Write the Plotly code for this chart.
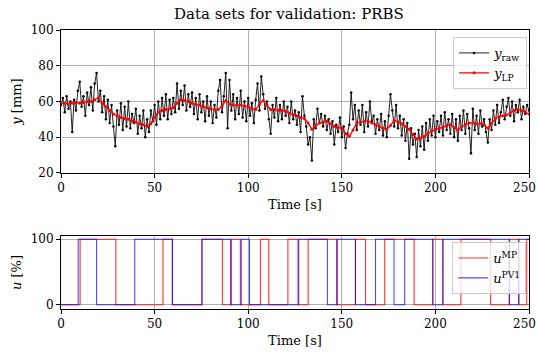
import numpy as np
import plotly.graph_objects as go

# ---------------- data ----------------
t_raw = np.arange(0, 251, 1)
y_raw = [
    58, 62, 54, 63, 56, 60, 43, 61, 55, 66,
    71, 57, 63, 52, 65, 58, 68, 55, 70, 76,
    60, 66, 54, 63, 50, 61, 48, 58, 46, 35,
    55, 47, 59, 44, 57, 46, 60, 45, 53, 48,
    56, 42, 52, 45, 55, 40, 50, 43, 55, 49,
    58, 47, 60, 50, 62, 52, 64, 50, 61, 53,
    62, 54, 70, 56, 66, 58, 69, 55, 64, 57,
    65, 53, 62, 50, 64, 54, 60, 49, 63, 52,
    60, 48, 58, 51, 66, 72, 54, 63, 76, 45,
    72, 55, 64, 50, 62, 53, 66, 51, 60, 49,
    62, 52, 59, 48, 61, 70, 55, 74, 64, 56,
    60, 50, 42, 58, 51, 62, 49, 58, 50, 60,
    52, 57, 48, 60, 50, 55, 47, 54, 43, 63,
    52, 46, 36, 40, 27, 50, 45, 56, 48, 53,
    46, 52, 44, 50, 42, 49, 36, 47, 43, 51,
    40, 46, 34, 42, 47, 65, 50, 58, 44, 55,
    47, 58, 43, 54, 46, 60, 49, 52, 42, 50,
    44, 53, 41, 49, 40, 52, 64, 55, 46, 58,
    45, 52, 41, 50, 38, 48, 28, 45, 36, 42,
    29, 44, 35, 46, 33, 48, 38, 50, 41, 52,
    40, 49, 43, 52, 41, 54, 44, 50, 42, 53,
    40, 50, 38, 52, 44, 55, 42, 53, 45, 31,
    56, 44, 52, 42, 55, 46, 50, 43, 37, 50,
    44, 55, 47, 58, 48, 54, 61, 50, 57, 62,
    52, 60, 49, 58, 54, 61, 50, 57, 53, 58,
    55,
]

t_lp = np.arange(0, 251, 2)
y_lp = [
    59, 59, 58.5, 59, 59.5, 59, 59.5, 60, 60, 61,
    62, 59, 57, 55, 53, 52, 51, 50.5, 50, 49,
    48.5, 47.5, 47, 46, 47.5, 51, 54, 55, 55.5, 56,
    56.5, 59, 61, 60.5, 60, 59, 58.5, 58, 57, 56.5,
    56, 55.5, 55.5, 57.5, 60.5, 58.5, 58, 58, 58, 57.5,
    57, 56, 55.5, 58.5, 60.5, 58, 55.5, 55.5, 55, 55,
    54.5, 53.5, 52.5, 52, 51, 50.5, 48, 44.5, 46.5, 48,
    48.5, 49, 47.5, 46, 45.5, 45, 42, 40.5, 44, 48,
    48.5, 49, 49, 48, 47, 46, 45, 44.5, 46.5, 49.5,
    48.5, 47.5, 46, 44.5, 41.5, 39, 39.5, 40.5, 42, 43.5,
    44.5, 45, 45.5, 46.5, 47, 45.5, 44, 46, 47, 48,
    48, 47.5, 47.5, 47, 45, 48, 50.5, 51.5, 52, 52.5,
    53.5, 55, 55.5, 55, 54, 53,
]

# PRBS inputs: switching times and levels (held until next time)
t_mp = [0, 10.2, 29.3, 54.5, 59.5, 75.3, 86.2, 91.0, 95.8, 106.5, 111.0,
        121.2, 126.6, 132.0, 147.2, 157.3, 162.7, 172.9, 188.6, 198.5,
        204.0, 213.6, 229.5, 239.5, 244.6, 248.8, 250]
u_mp = [0, 100, 0, 100, 0, 100, 0, 100, 0, 100, 0,
        100, 0, 100, 0, 100, 0, 100, 0, 100,
        0, 100, 0, 100, 0, 100, 100]

t_pv1 = [0, 9.2, 19.0, 39.4, 59.5, 75.3, 90.6, 96.3, 100.7, 127.0, 142.3,
         147.6, 157.3, 168.0, 177.9, 183.6, 198.7, 204.0, 239.5, 244.5, 250]
u_pv1 = [0, 100, 0, 100, 0, 100, 0, 100, 0, 100, 0,
         100, 0, 100, 0, 100, 0, 100, 0, 100, 100]

x_ticks = [0, 50, 100, 150, 200, 250]
y_ticks_top = [20, 40, 60, 80, 100]
y_ticks_bot = [0, 100]

# ---------------- figure ----------------
FONT = "DejaVu Serif"
TICK = 12
LAB = 13
# last x label is drawn as a right-aligned annotation so it stays inside the page
x_ticktext = [str(v) for v in x_ticks[:-1]] + [""]

fig = go.Figure()

fig.add_trace(go.Scatter(
    x=t_raw, y=y_raw, mode="lines+markers", name="<i>y</i><sub>raw</sub>",
    line=dict(color="rgba(10,10,10,0.9)", width=1.0),
    marker=dict(color="black", size=2.5),
    xaxis="x", yaxis="y", legend="legend"))
fig.add_trace(go.Scatter(
    x=t_lp, y=y_lp, mode="lines+markers", name="<i>y</i><sub>LP</sub>",
    line=dict(color="#ff0000", width=1.3),
    marker=dict(color="#ff0000", size=3),
    xaxis="x", yaxis="y", legend="legend"))

fig.add_trace(go.Scatter(
    x=t_mp, y=u_mp, mode="lines", line_shape="hv", name="<i>u</i><sup>MP</sup>",
    line=dict(color="rgba(255,0,0,0.8)", width=1.1),
    xaxis="x2", yaxis="y2", legend="legend2"))
fig.add_trace(go.Scatter(
    x=t_pv1, y=u_pv1, mode="lines", line_shape="hv", name="<i>u</i><sup>PV1</sup>",
    line=dict(color="rgba(0,0,255,0.7)", width=1.1),
    xaxis="x2", yaxis="y2", legend="legend2"))

axis_common = dict(
    showline=True, linecolor="black", linewidth=1, mirror=True,
    ticks="outside", ticklen=4, tickcolor="black", tickwidth=1,
    showgrid=True, gridcolor="#b0b0b0", gridwidth=0.8,
    zeroline=False, tickfont=dict(family=FONT, size=TICK, color="black"),
    automargin=False,
)

fig.update_layout(
    width=539, height=354,
    margin=dict(l=61, r=10, t=30, b=45, autoexpand=False),
    paper_bgcolor="white", plot_bgcolor="white",
    font=dict(family=FONT, size=LAB, color="black"),
    title=dict(text="Data sets for validation: PRBS", x=0.536, xanchor="center",
               y=0.962, yanchor="middle", font=dict(family=FONT, size=15)),
    xaxis=dict(domain=[0, 1], range=[0, 250], tickvals=x_ticks, ticktext=x_ticktext,
               anchor="y", title=dict(text="Time [s]", standoff=5, font=dict(size=LAB)),
               **axis_common),
    yaxis=dict(domain=[0.4875, 1], range=[20, 100], tickvals=y_ticks_top, anchor="x",
               title=dict(text="<i>y</i> [mm]", standoff=6, font=dict(size=LAB)),
               **axis_common),
    xaxis2=dict(domain=[0, 1], range=[0, 250], tickvals=x_ticks, ticktext=x_ticktext,
                anchor="y2", title=dict(text="Time [s]", standoff=5, font=dict(size=LAB)),
                **axis_common),
    yaxis2=dict(domain=[0, 0.2616], range=[-6.5, 105], tickvals=y_ticks_bot, anchor="x2",
                title=dict(text="<i>u</i> [%]", standoff=6, font=dict(size=LAB)),
                **axis_common),
    legend=dict(x=0.996, y=0.975, xanchor="right", yanchor="top",
                bgcolor="rgba(255,255,255,0.8)", bordercolor="#cccccc", borderwidth=1,
                font=dict(family=FONT, size=LAB), tracegroupgap=2),
    legend2=dict(x=0.994, y=0.240, xanchor="right", yanchor="top",
                 bgcolor="rgba(255,255,255,0.8)", bordercolor="#cccccc", borderwidth=1,
                 font=dict(family=FONT, size=LAB), tracegroupgap=2),
    showlegend=True,
)

for xr, yr in (("x", "y domain"), ("x2", "y2 domain")):
    fig.add_annotation(
        x=x_ticks[-1], xref=xr, y=0, yref=yr, text=str(x_ticks[-1]),
        showarrow=False, xanchor="right", yanchor="middle",
        xshift=9, yshift=-15, font=dict(family=FONT, size=TICK, color="black"))

fig.write_html("out.html")
